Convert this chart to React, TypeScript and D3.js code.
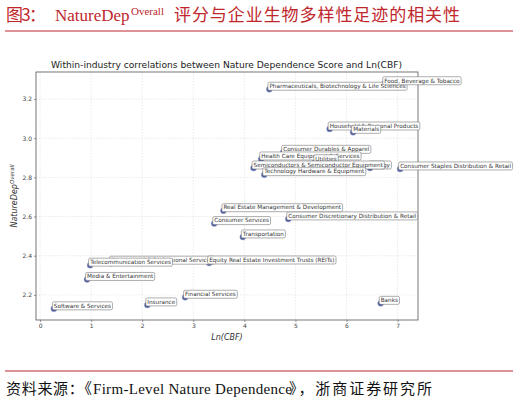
import React, { useRef, useEffect } from 'react';
import * as d3 from 'd3';

// industry labels, in drawing order (later ones sit on top)
const industries = [
  'Software & Services',
  'Insurance',
  'Financial Services',
  'Banks',
  'Media & Entertainment',
  'Commercial & Professional Services',
  'Telecommunication Services',
  'Equity Real Estate Investment Trusts (REITs)',
  'Transportation',
  'Consumer Services',
  'Consumer Discretionary Distribution & Retail',
  'Real Estate Management & Development',
  'Consumer Staples Distribution & Retail',
  'Energy',
  'Consumer Durables & Apparel',
  'Health Care Equipment & Services',
  'Utilities',
  'Semiconductors & Semiconductor Equipment',
  'Technology Hardware & Equipment',
  'Household & Personal Products',
  'Materials',
  'Pharmaceuticals, Biotechnology & Life Sciences',
  'Food, Beverage & Tobacco',
];

const lnCbf = [
  0.27, 2.1, 2.84, 6.67, 0.92, 1.39, 0.98, 3.31, 3.97, 3.41, 4.86, 3.59, 7.05,
  6.46, 4.76, 4.33, 5.39, 4.18, 4.39, 5.67, 6.13, 4.49, 6.74,
];

const natureDep = [
  2.129, 2.149, 2.188, 2.157, 2.279, 2.362, 2.352, 2.363, 2.496, 2.564, 2.588,
  2.63, 2.843, 2.848, 2.928, 2.894, 2.88, 2.848, 2.814, 3.047, 3.03, 3.25, 3.278,
];

const xTicks = [0, 1, 2, 3, 4, 5, 6, 7];
const yTicks = [2.2, 2.4, 2.6, 2.8, 3.0, 3.2];

const RED = '#c0272d';
const CJK = '"Noto Sans CJK SC", sans-serif';
const SERIF = '"Liberation Serif", "DejaVu Serif", serif';
const SANS = '"DejaVu Sans", sans-serif';

const Chart: React.FC = () => {
  const ref = useRef<SVGSVGElement>(null);

  useEffect(() => {
    const svg = d3.select(ref.current);
    svg.selectAll('*').remove();

    const left = 36;
    const right = 418;
    const top = 72;
    const bottom = 320;

    const x = d3.scaleLinear().domain([-0.08, 7.4]).range([left, right]);
    const y = d3.scaleLinear().domain([2.072, 3.338]).range([bottom, top]);

    // plain text piece, squeezed to a given width
    const piece = (tx: number, ty: number, str: string, font: string, size: number, fill: string, len?: number) => {
      const t = svg
        .append('text')
        .attr('x', tx)
        .attr('y', ty)
        .attr('font-family', font)
        .attr('font-size', size)
        .attr('fill', fill)
        .text(str);
      if (len) t.attr('textLength', len).attr('lengthAdjust', 'spacing');
      return t;
    };

    // header
    piece(6, 21, '图3：', CJK, 17, RED, 40);
    piece(55, 21, 'NatureDep', SERIF, 17, RED);
    piece(131, 15, 'Overall', SERIF, 11, RED);
    piece(174, 21, '评分与企业生物多样性足迹的相关性', CJK, 17, RED, 286);

    svg
      .append('line')
      .attr('x1', 5)
      .attr('x2', 513)
      .attr('y1', 31)
      .attr('y2', 31)
      .attr('stroke', RED)
      .attr('stroke-width', 1);

    // chart title
    svg
      .append('text')
      .attr('x', 51)
      .attr('y', 68)
      .attr('font-family', SANS)
      .attr('font-size', 9.4)
      .attr('fill', '#222')
      .attr('textLength', 351)
      .attr('lengthAdjust', 'spacingAndGlyphs')
      .text('Within-industry correlations between Nature Dependence Score and Ln(CBF)');

    // grid
    const grid = svg.append('g').attr('stroke', '#dcdcdc').attr('stroke-width', 0.6).attr('stroke-dasharray', '1.5,1.5');
    grid
      .selectAll('line.gx')
      .data(xTicks)
      .enter()
      .append('line')
      .attr('x1', (d) => x(d))
      .attr('x2', (d) => x(d))
      .attr('y1', top)
      .attr('y2', bottom);
    grid
      .selectAll('line.gy')
      .data(yTicks)
      .enter()
      .append('line')
      .attr('x1', left)
      .attr('x2', right)
      .attr('y1', (d) => y(d))
      .attr('y2', (d) => y(d));

    // axes
    const xAxis = d3.axisBottom(x).tickValues(xTicks).tickSize(2).tickPadding(2).tickFormat(d3.format('d'));
    const yAxis = d3.axisLeft(y).tickValues(yTicks).tickSize(2).tickPadding(2).tickFormat(d3.format('.1f'));
    const gx = svg.append('g').attr('transform', `translate(0,${bottom})`).call(xAxis);
    const gy = svg.append('g').attr('transform', `translate(${left},0)`).call(yAxis);
    [gx, gy].forEach((g) => {
      g.select('.domain').remove();
      g.selectAll('line').attr('stroke', '#555').attr('stroke-width', 0.6);
      g.selectAll('text').attr('font-family', SANS).attr('font-size', 6).attr('fill', '#444');
    });

    svg
      .append('rect')
      .attr('x', left)
      .attr('y', top)
      .attr('width', right - left)
      .attr('height', bottom - top)
      .attr('fill', 'none')
      .attr('stroke', '#555')
      .attr('stroke-width', 0.8);

    // axis labels
    svg
      .append('text')
      .attr('x', (left + right) / 2)
      .attr('y', 340)
      .attr('text-anchor', 'middle')
      .attr('font-family', SANS)
      .attr('font-style', 'italic')
      .attr('font-size', 8)
      .attr('fill', '#333')
      .text('Ln(CBF)');

    const yl = svg
      .append('text')
      .attr('transform', `translate(17,${(top + bottom) / 2}) rotate(-90)`)
      .attr('text-anchor', 'middle')
      .attr('font-family', SANS)
      .attr('font-style', 'italic')
      .attr('font-size', 8)
      .attr('fill', '#333');
    yl.append('tspan').text('NatureDep');
    yl.append('tspan').attr('dy', -3).attr('font-size', 5.5).text('Overall');

    // points
    const idx = d3.range(industries.length);
    svg
      .append('g')
      .selectAll('circle')
      .data(idx)
      .enter()
      .append('circle')
      .attr('cx', (i) => x(lnCbf[i]))
      .attr('cy', (i) => y(natureDep[i]))
      .attr('r', 3)
      .attr('fill', '#4c5a9e')
      .attr('stroke', '#a4acd4')
      .attr('stroke-width', 0.5);

    // annotation labels
    const labels = svg.append('g');
    idx.forEach((i) => {
      const px = x(lnCbf[i]);
      const py = y(natureDep[i]);
      const g = labels.append('g');
      const box = g.append('rect');
      const t = g
        .append('text')
        .attr('x', px)
        .attr('y', py - 1.2)
        .attr('font-family', SANS)
        .attr('font-size', 5.7)
        .attr('fill', '#333')
        .text(industries[i]);
      const w = (t.node() as SVGTextElement).getComputedTextLength();
      box
        .attr('x', px - 1.5)
        .attr('y', py - 7)
        .attr('width', w + 3)
        .attr('height', 8)
        .attr('rx', 1.5)
        .attr('fill', '#fff')
        .attr('stroke', '#777')
        .attr('stroke-width', 0.6);
    });

    // footer
    svg
      .append('line')
      .attr('x1', 5)
      .attr('x2', 513)
      .attr('y1', 371)
      .attr('y2', 371)
      .attr('stroke', RED)
      .attr('stroke-width', 1);

    piece(6, 394, '资料来源：《', CJK, 15, '#111', 86);
    piece(93, 394, 'Firm-Level Nature Dependence', SERIF, 15, '#111', 199);
    piece(289, 394, '》，浙商证券研究所', CJK, 15, '#111', 143);
  }, []);

  return (
    <svg
      ref={ref}
      width={520}
      height={404}
      style={{ position: 'absolute', left: 0, top: 0, background: '#fff' }}
    />
  );
};

export default function App() {
  return <Chart />;
}
